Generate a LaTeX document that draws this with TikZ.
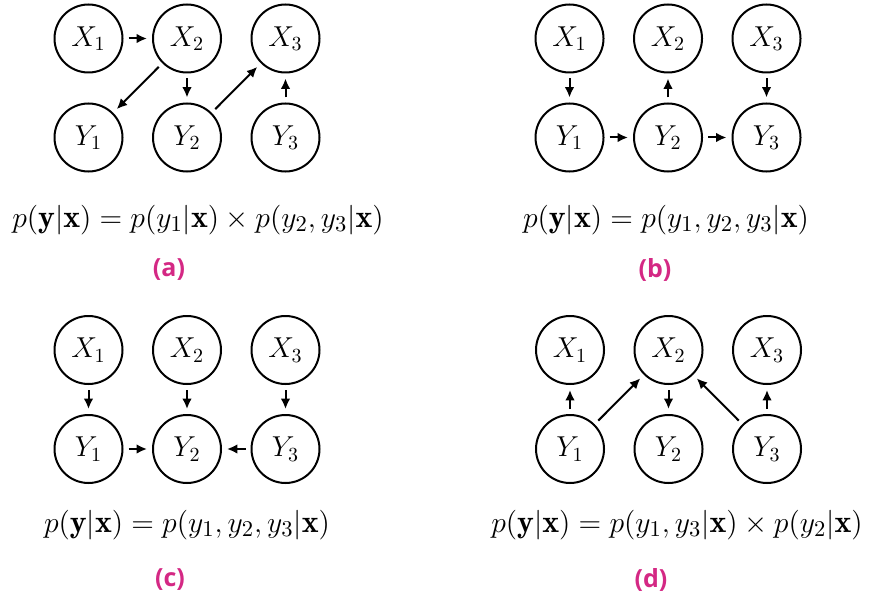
\documentclass[tikz,border=0pt]{standalone}
\usepackage{amsmath}
\usepackage{graphicx}
\usepackage{fontspec}
\newfontfamily\labfont{Open Sans}
\usetikzlibrary{arrows.meta}
\definecolor{labmag}{RGB}{212,40,132}
\newcommand{\eqsz}[1]{\scalebox{1.03}{#1}}
\tikzset{
  var/.style={circle,draw,line width=1pt,minimum size=34pt,inner sep=0pt,font=\fontsize{14.8}{17}\selectfont},
  edge/.style={line width=1pt,-{Latex[length=5.2pt,width=4.8pt]},shorten <=2.5pt,shorten >=2.5pt},
  eqn/.style={font=\fontsize{15.5}{18}\selectfont,inner sep=0pt},
  sublabel/.style={font=\labfont\bfseries\fontsize{12.5}{15}\selectfont,text=labmag,inner sep=0pt}
}
\begin{document}
\begin{tikzpicture}[x=0.5pt,y=-0.5pt]
\useasboundingbox (0,0) rectangle (870,604);
% panel a
\node[var] (aX1) at (88.5,38.5) {$X_1$};
\node[var] (aX2) at (187,38.5) {$X_2$};
\node[var] (aX3) at (285.5,38.5) {$X_3$};
\node[var] (aY1) at (88.5,137.5) {$Y_1$};
\node[var] (aY2) at (187,137.5) {$Y_2$};
\node[var] (aY3) at (285.5,137.5) {$Y_3$};
\draw[edge] (aX1) -- (aX2);
\draw[edge] (aX2) -- (aY1);
\draw[edge] (aX2) -- (aY2);
\draw[edge] (aY2) -- (aX3);
\draw[edge] (aY3) -- (aX3);
\node[eqn] (aeq) at (198,220) {\eqsz{$p(\mathbf{y}|\mathbf{x}) = p(y_1|\mathbf{x}) \times p(y_2,y_3|\mathbf{x})$}};
\node[sublabel] (alab) at (169,270) {(a)};
% panel b
\node[var] (bX1) at (569.5,38.5) {$X_1$};
\node[var] (bX2) at (668,38.5) {$X_2$};
\node[var] (bX3) at (766.5,38.5) {$X_3$};
\node[var] (bY1) at (569.5,137.5) {$Y_1$};
\node[var] (bY2) at (668,137.5) {$Y_2$};
\node[var] (bY3) at (766.5,137.5) {$Y_3$};
\draw[edge] (bX1) -- (bY1);
\draw[edge] (bY2) -- (bX2);
\draw[edge] (bX3) -- (bY3);
\draw[edge] (bY1) -- (bY2);
\draw[edge] (bY2) -- (bY3);
\node[eqn] (beq) at (666,220) {\eqsz{$p(\mathbf{y}|\mathbf{x}) = p(y_1,y_2,y_3|\mathbf{x})$}};
\node[sublabel] (blab) at (655,270) {(b)};
% panel c
\node[var] (cX1) at (88.5,350) {$X_1$};
\node[var] (cX2) at (187,350) {$X_2$};
\node[var] (cX3) at (285.5,350) {$X_3$};
\node[var] (cY1) at (88.5,449) {$Y_1$};
\node[var] (cY2) at (187,449) {$Y_2$};
\node[var] (cY3) at (285.5,449) {$Y_3$};
\draw[edge] (cX1) -- (cY1);
\draw[edge] (cX2) -- (cY2);
\draw[edge] (cX3) -- (cY3);
\draw[edge] (cY1) -- (cY2);
\draw[edge] (cY3) -- (cY2);
\node[eqn] (ceq) at (187,525) {\eqsz{$p(\mathbf{y}|\mathbf{x}) = p(y_1,y_2,y_3|\mathbf{x})$}};
\node[sublabel] (clab) at (170,580) {(c)};
% panel d
\node[var] (dX1) at (570,350) {$X_1$};
\node[var] (dX2) at (668.5,350) {$X_2$};
\node[var] (dX3) at (767,350) {$X_3$};
\node[var] (dY1) at (570,449) {$Y_1$};
\node[var] (dY2) at (668.5,449) {$Y_2$};
\node[var] (dY3) at (767,449) {$Y_3$};
\draw[edge] (dY1) -- (dX1);
\draw[edge] (dY1) -- (dX2);
\draw[edge] (dX2) -- (dY2);
\draw[edge] (dY3) -- (dX2);
\draw[edge] (dY3) -- (dX3);
\node[eqn] (deq) at (677,525) {\eqsz{$p(\mathbf{y}|\mathbf{x}) = p(y_1,y_3|\mathbf{x}) \times p(y_2|\mathbf{x})$}};
\node[sublabel] (dlab) at (651,580) {(d)};
\end{tikzpicture}
\end{document}
